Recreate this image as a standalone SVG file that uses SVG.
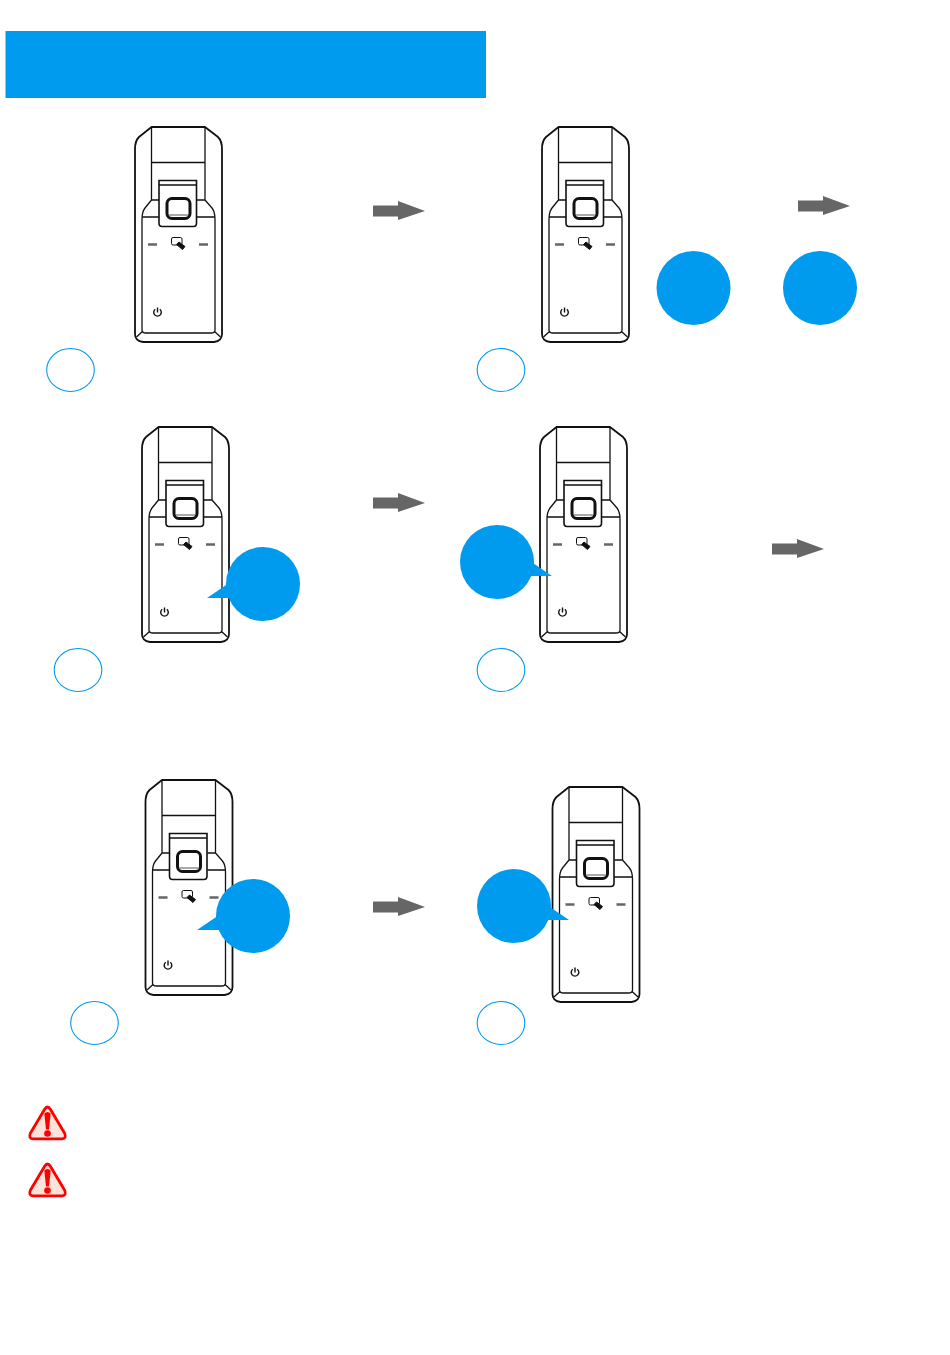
<svg xmlns="http://www.w3.org/2000/svg" width="950" height="1355" viewBox="0 0 950 1355">
<style>
.l{fill:none;stroke:#111;stroke-width:1.300;stroke-linejoin:round}
.m{fill:none;stroke:#111;stroke-width:1.800;stroke-linejoin:round}
.blue{fill:#009bee}
.ring{fill:#fff;stroke:#009bee;stroke-width:1.100}
.dash{stroke:#666;stroke-width:2.400;fill:none}
.arrow{fill:#666}
.tri{fill:#fde3da;stroke:#f00;stroke-width:2.800;stroke-linejoin:round}
.ex{fill:#f00}
</style>
<defs>
<g id="device">
<path class="m" d="M16.500 0H70L83 10Q87 14 87 22V207Q87 214 79 215H8Q0 214 0 207V22Q0 14 4 10Z"/>
<path class="l" d="M16.500 0V73L10 81Q7 85 7 92V203Q7 206 11 206H76Q80 206 80 203V92Q80 85 77 81L70 73V0M16.500 35.500H70M16.500 73H24M62 73H70M7 90H24M62 90H80M8 204L1.500 210M79 204L85.500 210"/>
<path d="M24 53.500H61.500V96Q61.500 99.500 58.500 99.500H27Q24 99.500 24 96Z" fill="#fff" stroke="#111" stroke-width="1.600"/>
<path class="l" d="M24 58H61.500"/>
<rect x="32" y="71.500" width="23" height="20" rx="5" fill="#fff" stroke="#111" stroke-width="3"/>
<path d="M34 88H53" stroke="#555" stroke-width="1"/>
<path class="dash" d="M13 117.500H22M64 117.500H73"/>
<rect x="36.500" y="110.500" width="10.500" height="7.500" rx="1.500" fill="#fff" stroke="#111" stroke-width="1"/>
<path d="M41.500 117.500L44 115L50 119.500L47.500 122.500Z" fill="#111" stroke="#111" stroke-width="1"/>
<path d="M20.200 182.300A3.800 3.800 0 1 0 24.800 182.300" fill="none" stroke="#111" stroke-width="1.400"/>
<path d="M22.500 180.500V185.500" stroke="#111" stroke-width="1.400"/>
</g>
<g id="arrowGlyph"><path class="arrow" d="M0-5.500H25V-10L52 0L25 9V5.500H0Z"/></g>
<g id="warn">
<path class="tri" d="M20 2Q21.500 2 23 4.500L37 28Q39.500 33.500 34.500 33.800H5.500Q0.500 33.500 3 28L17 4.500Q18.500 2 20 2Z"/>
<path class="ex" d="M16.800 8.500Q20 5.500 23.200 8.500L21.500 24.500H18.500Z"/>
<circle class="ex" cx="20" cy="28.500" r="3.300"/>
</g>
</defs>
<rect width="950" height="1355" fill="#fff"/>
<rect id="banner" class="blue" x="5.500" y="31" width="480.500" height="67"/>
<g id="device-1"><use href="#device" x="135" y="127"/></g>
<g id="device-2"><use href="#device" x="542" y="127"/></g>
<g id="device-3"><use href="#device" x="142" y="427"/></g>
<g id="device-4"><use href="#device" x="540" y="427"/></g>
<g id="device-5"><use href="#device" x="145.500" y="780"/></g>
<g id="device-6"><use href="#device" x="552.500" y="787"/></g>
<g id="connectors">
<use href="#arrowGlyph" x="373" y="211"/>
<use href="#arrowGlyph" x="798" y="206"/>
<use href="#arrowGlyph" x="373" y="503"/>
<use href="#arrowGlyph" x="772" y="549"/>
<use href="#arrowGlyph" x="373" y="907"/>
</g>
<g id="step-1"><ellipse class="ring" cx="70.500" cy="370" rx="23.800" ry="21.500"/></g>
<g id="step-2"><ellipse class="ring" cx="501" cy="370" rx="23.800" ry="21.500"/></g>
<g id="step-3"><ellipse class="ring" cx="78" cy="670" rx="23.800" ry="21.500"/></g>
<g id="step-4"><ellipse class="ring" cx="501" cy="670" rx="23.800" ry="21.500"/></g>
<g id="step-5"><ellipse class="ring" cx="94.500" cy="1023" rx="23.800" ry="21.500"/></g>
<g id="step-6"><ellipse class="ring" cx="501" cy="1023" rx="23.800" ry="21.500"/></g>
<g id="bubble-1"><circle class="blue" cx="693.500" cy="288" r="37"/></g>
<g id="bubble-2"><circle class="blue" cx="820" cy="288" r="37"/></g>
<g id="bubble-3"><circle class="blue" cx="263" cy="584" r="37"/><path class="blue" d="M207 598L232 581L236 598Z"/></g>
<g id="bubble-4"><circle class="blue" cx="497" cy="562" r="37"/><path class="blue" d="M552 576L527 559L523 576Z"/></g>
<g id="bubble-5"><circle class="blue" cx="253" cy="916" r="37"/><path class="blue" d="M197 930L222 913L226 930Z"/></g>
<g id="bubble-6"><circle class="blue" cx="514" cy="906" r="37"/><path class="blue" d="M569 920L544 903L540 920Z"/></g>
<g id="warning-1"><use href="#warn" x="27.500" y="1105"/></g>
<g id="warning-2"><use href="#warn" x="27.500" y="1162"/></g>
</svg>
